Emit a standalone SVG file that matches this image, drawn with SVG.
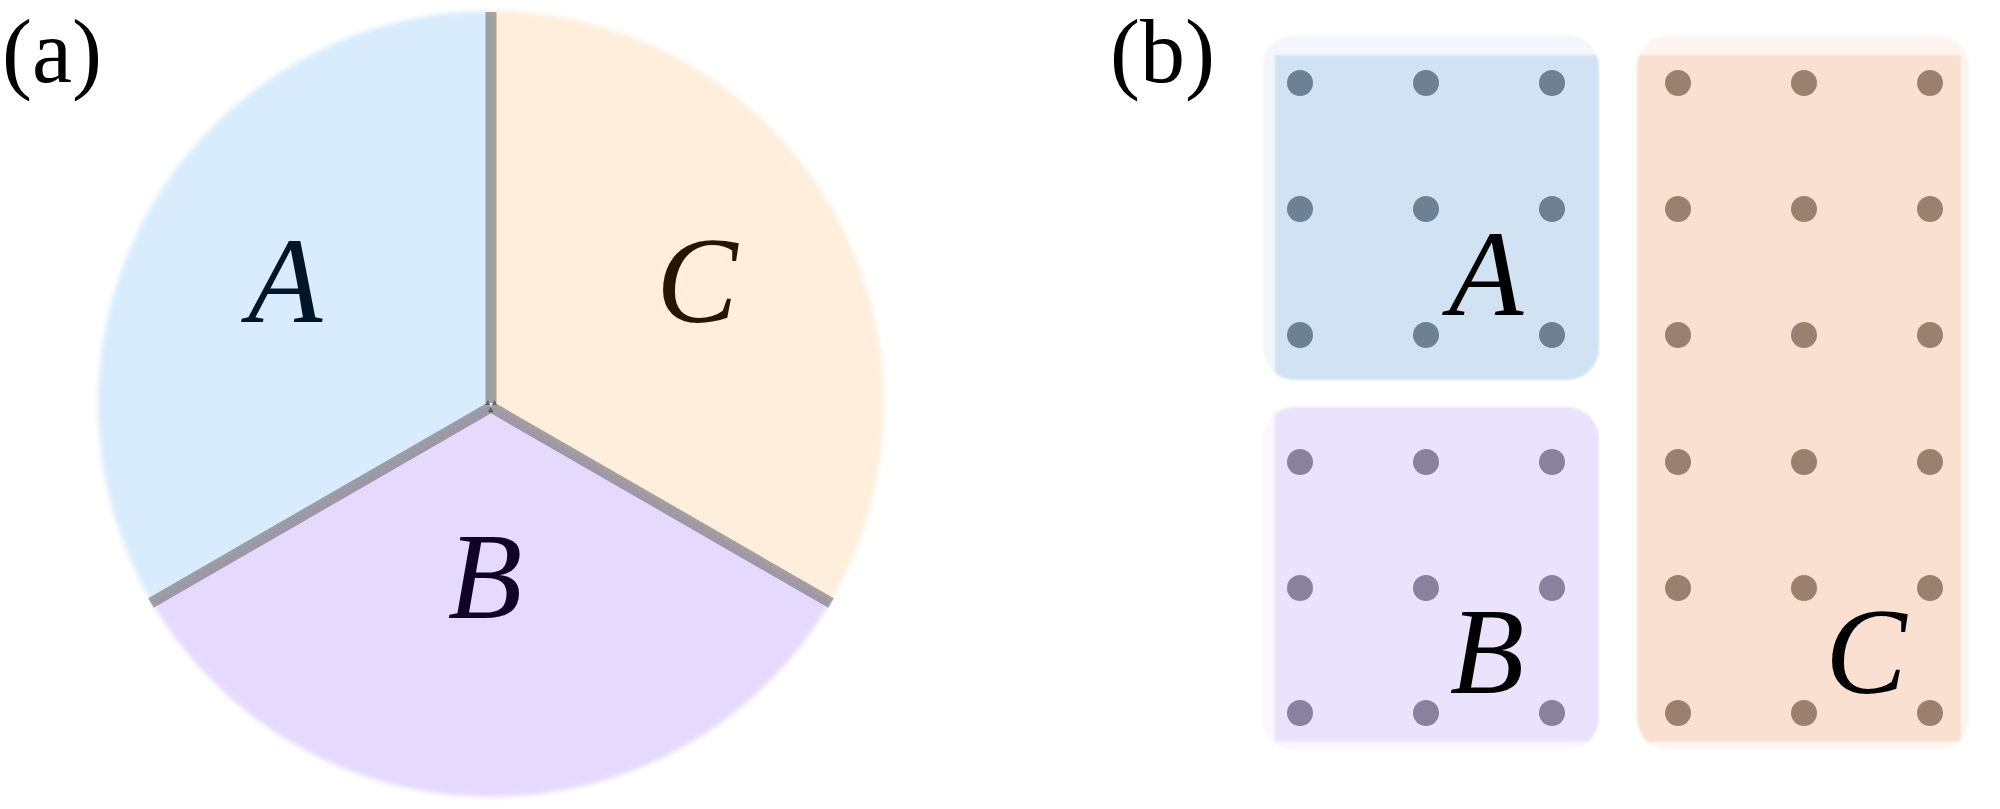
<svg xmlns="http://www.w3.org/2000/svg" xmlns:xlink="http://www.w3.org/1999/xlink" width="2000" height="809" viewBox="0 0 2000 809">
<defs>
<style>
.lbl{font-family:"Liberation Serif","Times New Roman",serif;font-style:italic;font-size:122px;text-anchor:middle}
.tag{font-family:"Liberation Serif","Times New Roman",serif;font-size:90px;fill:#000}
.edge{stroke:#666;stroke-opacity:0.57;stroke-width:11;fill:none;stroke-linecap:butt}
.tip{fill:#555;opacity:0.8}
</style>
<filter id="soft" x="-5%" y="-5%" width="110%" height="110%"><feGaussianBlur stdDeviation="2.5"/></filter>
<filter id="soft2" x="-5%" y="-5%" width="110%" height="110%"><feGaussianBlur stdDeviation="1.2"/></filter>
<circle id="dot" r="13"/>
<clipPath id="clipA"><rect x="1275" y="55" width="400" height="400"/></clipPath>
<clipPath id="clipB"><rect x="1275" y="380" width="400" height="362"/></clipPath>
<clipPath id="clipC"><rect x="1600" y="55" width="361" height="687"/></clipPath>
</defs>
<rect width="2000" height="809" fill="#fff"/>

<!-- Panel (a) -->
<text class="tag" x="2" y="82">(a)</text>
<g id="circle-a" filter="url(#soft)">
  <path id="sector-A" d="M491,404 L491,11 A393,393 0 0 0 150.7,600.5 Z" fill="#D8ECFD"/>
  <path id="sector-C" d="M491,404 L491,11 A393,393 0 0 1 831.3,600.5 Z" fill="#FFEEDB"/>
  <path id="sector-B" d="M491,404 L150.7,600.5 A393,393 0 0 0 831.3,600.5 Z" fill="#E6D9FE"/>
</g>
<g id="connectors">
  <line class="edge" x1="491" y1="12" x2="491" y2="403"/>
  <line class="edge" x1="491" y1="407" x2="151" y2="603"/>
  <line class="edge" x1="491" y1="407" x2="831" y2="603"/>
  <polygon class="tip" points="485,405 488,400 490,405"/>
  <polygon class="tip" points="492,405 494.5,400 497,405"/>
  <polygon class="tip" points="488,412 490.5,407 493,412"/>
</g>
<g id="labels-a">
  <text class="lbl" x="285" y="322" fill="#001628">A</text>
  <text class="lbl" x="697" y="322" fill="#271500">C</text>
  <text class="lbl" x="485" y="618" fill="#120026">B</text>
</g>

<!-- Panel (b) -->
<text class="tag" x="1110" y="82">(b)</text>
<g id="box-A">
  <g filter="url(#soft2)">
    <rect x="1263" y="35" width="336" height="345" rx="32" fill="#F3F7FB"/>
    <rect x="1263" y="35" width="336" height="345" rx="32" fill="#D1E2F2" clip-path="url(#clipA)"/>
  </g>
  <g fill="#6E8093">
    <use xlink:href="#dot" x="1300" y="83"/><use xlink:href="#dot" x="1426" y="83"/><use xlink:href="#dot" x="1552" y="83"/>
    <use xlink:href="#dot" x="1300" y="209"/><use xlink:href="#dot" x="1426" y="209"/><use xlink:href="#dot" x="1552" y="209"/>
    <use xlink:href="#dot" x="1300" y="335"/><use xlink:href="#dot" x="1426" y="335"/><use xlink:href="#dot" x="1552" y="335"/>
  </g>
  <text class="lbl" x="1486" y="315" fill="#000">A</text>
</g>
<g id="box-B">
  <g filter="url(#soft2)">
    <rect x="1263" y="407" width="336" height="343" rx="32" fill="#F9F7FF"/>
    <rect x="1263" y="407" width="336" height="343" rx="32" fill="#EBE2FD" clip-path="url(#clipB)"/>
  </g>
  <g fill="#8A819F">
    <use xlink:href="#dot" x="1300" y="462"/><use xlink:href="#dot" x="1426" y="462"/><use xlink:href="#dot" x="1552" y="462"/>
    <use xlink:href="#dot" x="1300" y="588"/><use xlink:href="#dot" x="1426" y="588"/><use xlink:href="#dot" x="1552" y="588"/>
    <use xlink:href="#dot" x="1300" y="713"/><use xlink:href="#dot" x="1426" y="713"/><use xlink:href="#dot" x="1552" y="713"/>
  </g>
  <text class="lbl" x="1487" y="693" fill="#000">B</text>
</g>
<g id="box-C">
  <g filter="url(#soft2)">
    <rect x="1637" y="35" width="332" height="715" rx="32" fill="#FDF6F0"/>
    <rect x="1637" y="35" width="332" height="715" rx="32" fill="#FAE0D0" clip-path="url(#clipC)"/>
  </g>
  <g fill="#9C806E">
    <use xlink:href="#dot" x="1678" y="83"/><use xlink:href="#dot" x="1804" y="83"/><use xlink:href="#dot" x="1930" y="83"/>
    <use xlink:href="#dot" x="1678" y="209"/><use xlink:href="#dot" x="1804" y="209"/><use xlink:href="#dot" x="1930" y="209"/>
    <use xlink:href="#dot" x="1678" y="335"/><use xlink:href="#dot" x="1804" y="335"/><use xlink:href="#dot" x="1930" y="335"/>
    <use xlink:href="#dot" x="1678" y="462"/><use xlink:href="#dot" x="1804" y="462"/><use xlink:href="#dot" x="1930" y="462"/>
    <use xlink:href="#dot" x="1678" y="588"/><use xlink:href="#dot" x="1804" y="588"/><use xlink:href="#dot" x="1930" y="588"/>
    <use xlink:href="#dot" x="1678" y="713"/><use xlink:href="#dot" x="1804" y="713"/><use xlink:href="#dot" x="1930" y="713"/>
  </g>
  <text class="lbl" x="1866" y="693" fill="#000">C</text>
</g>
</svg>
